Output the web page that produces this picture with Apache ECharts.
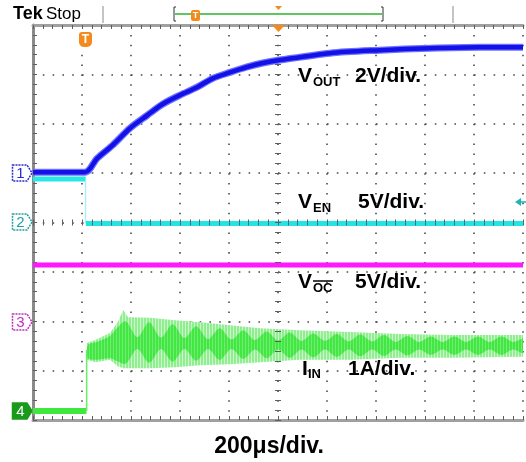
<!DOCTYPE html>
<html>
<head>
<meta charset="utf-8">
<script src="https://cdn.jsdelivr.net/npm/echarts@6/dist/echarts.min.js"></script>
<style>
html,body{margin:0;padding:0;background:#fff;}
#c{width:526px;height:462px;}
</style>
</head>
<body>
<div id="c"></div>
<script>
// ---- data (x in divisions of 200us, y in screen divisions from bottom) ----
const vOutX = [0, 1.06, 1.31, 1.63, 1.98, 2.33, 2.65, 3.0, 3.35, 3.67, 4.02, 4.37, 4.69, 5.04, 6.06, 7.08, 8.1, 9.12, 10];
const vOutY = [5.02, 5.02, 5.30, 5.57, 5.91, 6.17, 6.40, 6.58, 6.74, 6.92, 7.04, 7.15, 7.23, 7.29, 7.43, 7.49, 7.53, 7.55, 7.55];

const vEnPreX = [0, 1.075];
const vEnPreY = [4.88, 4.88];
const vEnEdgeX = [1.075, 1.075];
const vEnEdgeY = [4.88, 3.98];
const vEnPostX = [1.08, 10];
const vEnPostY = [3.98, 3.98];

const vOcX = [0, 10];
const vOcY = [3.14, 3.14];

const iInPreX = [0, 1.09];
const iInPreY = [0.18, 0.18];
const iInEdgeX = [1.095, 1.095];
const iInEdgeY = [0.18, 1.42];

const iInEnvX   = [1.10, 1.27, 1.57, 1.73, 1.84, 1.94, 2.39, 2.90, 3.41, 4.02, 4.63, 5.45, 6.47, 7.49, 8.51, 10];
const iInUpper  = [1.56, 1.62, 1.76, 1.98, 2.23, 2.08, 2.07, 2.02, 1.98, 1.92, 1.86, 1.82, 1.78, 1.74, 1.72, 1.72];
const iInLower  = [1.22, 1.17, 1.22, 1.09, 1.05, 1.05, 1.05, 1.07, 1.11, 1.13, 1.17, 1.22, 1.22, 1.26, 1.26, 1.28];

const iInCoreX  = [1.12, 1.30, 1.57, 1.70, 1.89, 2.13, 2.37, 2.61, 2.85, 3.09, 3.33, 3.57, 3.81, 4.05, 4.29, 4.53, 4.77, 5.00, 5.24, 5.48, 5.72, 5.96, 6.20, 6.44, 6.68, 6.92, 7.16, 7.40, 7.64, 7.88, 8.12, 8.36, 8.60, 8.84, 9.08, 9.32, 9.56, 9.80, 10];
const iInCoreLo = [1.25, 1.22, 1.25, 1.20, 1.14, 1.44, 1.16, 1.44, 1.18, 1.44, 1.20, 1.44, 1.22, 1.44, 1.24, 1.43, 1.25, 1.43, 1.26, 1.43, 1.27, 1.43, 1.28, 1.43, 1.29, 1.43, 1.30, 1.43, 1.31, 1.43, 1.32, 1.43, 1.32, 1.43, 1.32, 1.43, 1.32, 1.43, 1.36];
const iInCoreHi = [1.52, 1.58, 1.70, 1.85, 2.00, 1.68, 1.98, 1.67, 1.94, 1.66, 1.90, 1.64, 1.86, 1.63, 1.82, 1.62, 1.79, 1.61, 1.77, 1.60, 1.75, 1.60, 1.74, 1.59, 1.73, 1.59, 1.72, 1.58, 1.70, 1.58, 1.69, 1.58, 1.69, 1.58, 1.69, 1.58, 1.69, 1.58, 1.64];

// ---- helpers ----
const zip = (xs, ys) => xs.map((x, i) => [x, ys[i]]);
const FONT = '"Liberation Sans", Arial, sans-serif';

function stripes(c1, c2) {
  const cv = document.createElement('canvas');
  cv.width = 3; cv.height = 4;
  const g = cv.getContext('2d');
  g.fillStyle = c1; g.fillRect(0, 0, 2, 4);
  g.fillStyle = c2; g.fillRect(2, 0, 1, 4);
  return { image: cv, repeat: 'repeat' };
}
const outerFill = stripes('#8fef8f', '#cdf8cd');
const coreFill = stripes('#44e644', '#6eee6e');

const TICK = { color: '#5e5e5e', width: 1 };
function tickAxis(dim, gridIndex, position, max, main) {
  return {
    gridIndex: gridIndex, type: 'value', min: 0, max: max, interval: 1, position: position, z: 20,
    axisLine: { show: main, onZero: false, lineStyle: { color: dim === 'x' ? '#a0a0a0' : '#8a8a8a', width: 3 } },
    axisTick: { show: true, inside: true, length: main ? 4 : 3, lineStyle: TICK },
    minorTick: { show: true, splitNumber: 5, length: main ? 4 : 3, lineStyle: TICK },
    axisLabel: { show: false },
    splitLine: { show: false }
  };
}
const hidden = (gridIndex) => ({ gridIndex: gridIndex, type: 'value', show: false, min: 0, max: 1 });

const xMain = tickAxis('x', 0, 'bottom', 10, true);
xMain.z = 0;
xMain.splitLine = { show: true, lineStyle: { color: '#4a4a4a', width: 1.6, type: [1.6, 8.275] } };
const yMain = tickAxis('y', 0, 'left', 8, true);
yMain.z = 0;
yMain.splitLine = { show: true, lineStyle: { color: '#4a4a4a', width: 1.6, type: [1.6, 8.2] } };

function bandItem(params, api) {
  const outer = [];
  iInEnvX.forEach((x, i) => outer.push(api.coord([x, iInUpper[i]])));
  for (let i = iInEnvX.length - 1; i >= 0; i--) outer.push(api.coord([iInEnvX[i], iInLower[i]]));
  const core = [];
  iInCoreX.forEach((x, i) => core.push(api.coord([x, iInCoreHi[i]])));
  for (let i = iInCoreX.length - 1; i >= 0; i--) core.push(api.coord([iInCoreX[i], iInCoreLo[i]]));
  return {
    type: 'group',
    children: [
      { type: 'polygon', shape: { points: outer }, style: { fill: outerFill } },
      { type: 'polygon', shape: { points: core, smooth: 0.3 }, style: { fill: coreFill } }
    ]
  };
}

const chart = echarts.init(document.getElementById('c'), null, { renderer: 'canvas' });

const txt = (x, y, text, size, opts) => ({
  type: 'text', x: x, y: y, z: 100,
  style: Object.assign({ text: text, font: 'bold ' + size + 'px ' + FONT, fill: '#000', textAlign: 'left', textVerticalAlign: 'middle' }, (opts || {}))
});

function chanMarker(y, label, color, filled) {
  return {
    type: 'group', z: 100, children: [
      { type: 'polygon', shape: { points: [[12.5, y - 8], [27, y - 8], [32, y], [27, y + 8], [12.5, y + 8]] },
        style: { fill: filled ? color : '#fff', stroke: color, lineWidth: 1.5, lineDash: filled ? null : [2, 1] } },
      { type: 'text', x: 20.5, y: y + 0.5, style: { text: label, font: '15px ' + FONT, fill: filled ? '#fff' : color, textAlign: 'center', textVerticalAlign: 'middle' } }
    ]
  };
}

const line = (name, xs, ys, color, width, z, extra) => Object.assign({
  type: 'line', name: name, data: zip(xs, ys), showSymbol: false, z: z,
  xAxisIndex: 0, yAxisIndex: 0, lineStyle: { color: color, width: width }
}, extra || {});

const option = {
  animation: false,
  backgroundColor: '#fff',
  grid: [
    { left: 33, top: 25, width: 490, height: 395 },
    { left: 33, top: 25, width: 245, height: 395 },
    { left: 278, top: 25, width: 245, height: 395 },
    { left: 33, top: 25, width: 490, height: 197.5 },
    { left: 33, top: 222.5, width: 490, height: 197.5 }
  ],
  xAxis: [
    xMain,
    tickAxis('x', 0, 'top', 10, true),
    hidden(1),
    hidden(2),
    tickAxis('x', 3, 'bottom', 10, false),
    tickAxis('x', 4, 'top', 10, false)
  ],
  yAxis: [
    yMain,
    tickAxis('y', 1, 'right', 8, false),
    tickAxis('y', 2, 'left', 8, false),
    hidden(3),
    hidden(4)
  ],
  series: [
    { type: 'custom', name: 'IIN band', renderItem: bandItem, data: [[1.1, 1.5]], clip: true, z: 2, xAxisIndex: 0, yAxisIndex: 0 },
    line('IIN pre', iInPreX, iInPreY, '#3ee83e', 6, 3),
    line('IIN edge', iInEdgeX, iInEdgeY, '#66ee66', 1.5, 3),
    line('VOC', vOcX, vOcY, '#ff18ff', 5, 4),
    line('VEN pre', vEnPreX, vEnPreY, '#2ae6e6', 5, 5),
    line('VEN edge', vEnEdgeX, vEnEdgeY, '#8af0f0', 1, 5),
    line('VEN', vEnPostX, vEnPostY, '#22e4e4', 5, 5),
    line('VOUT halo', vOutX, vOutY, '#7070ff', 7, 6, { smooth: 0.3 }),
    line('VOUT', vOutX, vOutY, '#1212e8', 4.5, 7, { smooth: 0.3 })
  ],
  graphic: [
    // header
    txt(13, 14, 'Tek', 18),
    txt(46, 14.5, 'Stop', 17, { font: '17px ' + FONT }),
    { type: 'line', shape: { x1: 103, y1: 6, x2: 103, y2: 23 }, style: { stroke: '#c4c4c4', lineWidth: 2 } },
    { type: 'line', shape: { x1: 453, y1: 6, x2: 453, y2: 23 }, style: { stroke: '#c4c4c4', lineWidth: 2 } },
    { type: 'polyline', shape: { points: [[176, 7], [174, 7], [174, 21], [176, 21]] }, style: { stroke: '#333', lineWidth: 1, fill: null } },
    { type: 'polyline', shape: { points: [[381, 7], [383, 7], [383, 21], [381, 21]] }, style: { stroke: '#333', lineWidth: 1, fill: null } },
    { type: 'line', shape: { x1: 175, y1: 14, x2: 382, y2: 14 }, style: { stroke: '#2bb52b', lineWidth: 1.5 } },
    { type: 'rect', shape: { x: 191, y: 10, width: 9, height: 11, r: 2 }, style: { fill: '#f28a1e' } },
    { type: 'text', x: 195.5, y: 15.5, style: { text: 'T', font: 'bold 9px ' + FONT, fill: '#fff', textAlign: 'center', textVerticalAlign: 'middle' } },
    { type: 'polygon', shape: { points: [[275, 6], [282, 6], [278.5, 10]] }, style: { fill: '#f28a1e' } },
    // trigger markers in plot
    { type: 'polygon', z: 100, shape: { points: [[272, 25], [285, 25], [278.5, 32]] }, style: { fill: '#f28a1e' } },
    { type: 'rect', z: 100, shape: { x: 79, y: 32, width: 13, height: 15, r: [3, 3, 5, 5] }, style: { fill: '#f28a1e' } },
    { type: 'text', z: 101, x: 85.5, y: 39.5, style: { text: 'T', font: 'bold 12px ' + FONT, fill: '#fff', textAlign: 'center', textVerticalAlign: 'middle' } },
    // channel markers
    chanMarker(173, '1', '#2b2bd0', false),
    chanMarker(222, '2', '#1f9f9f', false),
    chanMarker(322, '3', '#c02cc0', false),
    chanMarker(411, '4', '#1a9a1a', true),
    // ch2 trigger level arrow at right
    { type: 'polygon', z: 100, shape: { points: [[515, 202], [521, 198], [521, 206]] }, style: { fill: '#1fb5b5' } },
    { type: 'line', z: 100, shape: { x1: 520, y1: 202, x2: 526, y2: 202 }, style: { stroke: '#1fb5b5', lineWidth: 1.5 } },
    // labels
    txt(298, 76.5, 'V', 21),
    txt(313, 82, 'OUT', 13),
    txt(355, 76.5, '2V/div.', 21),
    txt(298, 202.5, 'V', 21),
    txt(313, 208, 'EN', 13),
    txt(358, 202.5, '5V/div.', 21),
    txt(298, 282.5, 'V', 21),
    txt(313, 288, 'OC', 13),
    { type: 'line', z: 100, shape: { x1: 313, y1: 281, x2: 333, y2: 281 }, style: { stroke: '#000', lineWidth: 1.5 } },
    txt(355, 282.5, '5V/div.', 21),
    txt(302, 369, 'I', 21),
    txt(308, 374.5, 'IN', 13),
    txt(348, 369, '1A/div.', 21),
    txt(269, 446.5, '200μs/div.', 23, { textAlign: 'center' })
  ]
};
chart.setOption(option);
</script>
</body>
</html>
